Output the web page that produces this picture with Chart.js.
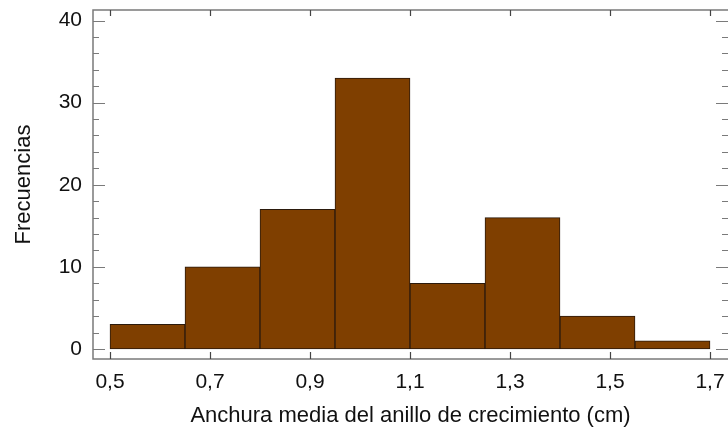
<!DOCTYPE html>
<html>
<head>
<meta charset="utf-8">
<script src="https://cdn.jsdelivr.net/npm/chart.js@4"></script>
<style>
  html, body { margin: 0; padding: 0; background: #fff; }
  #wrap { width: 728px; height: 427px; }
</style>
</head>
<body>
<div id="wrap"><canvas id="histChart"></canvas></div>
<script>
// bin edges (cm) and frequencies
var binEdges = [0.5, 0.65, 0.8, 0.95, 1.1, 1.25, 1.4, 1.55, 1.7];
var counts = [3, 10, 17, 33, 8, 16, 4, 1];
var xTicks = [0.5, 0.7, 0.9, 1.1, 1.3, 1.5, 1.7];
var yTicks = [0, 10, 20, 30, 40];

var cData = [];
for (var i = 0; i < counts.length; i++) {
    cData.push({ x: (binEdges[i] + binEdges[i + 1]) / 2, y: counts[i] });
}

// box + inward tick marks, like the original plot
const frameTicks = {
    id: 'frameTicks',
    afterDraw: function (chart) {
        var ctx = chart.ctx;
        var a = chart.chartArea;
        var xs = chart.scales.x, ys = chart.scales.y;
        ctx.save();
        ctx.strokeStyle = '#7a7a7a';
        ctx.lineWidth = 1.5;
        ctx.strokeRect(a.left, a.top, a.right - a.left + 4, a.bottom - a.top);

        ctx.lineWidth = 1.2;
        ctx.beginPath();
        // y ticks left & right, major every 10, minor every 2
        for (var v = 0; v <= 40; v += 2) {
            var py = Math.round(ys.getPixelForValue(v)) + 0.5;
            var len = (v % 10 === 0) ? 12 : 6;
            ctx.moveTo(a.left, py); ctx.lineTo(a.left + len, py);
            ctx.moveTo(a.right, py); ctx.lineTo(a.right - len, py);
        }
        ctx.stroke();

        ctx.strokeStyle = '#444';
        ctx.beginPath();
        xTicks.forEach(function (t) {
            var px = Math.round(xs.getPixelForValue(t)) + 0.5;
            ctx.moveTo(px, a.bottom); ctx.lineTo(px, a.bottom - 7);
            ctx.moveTo(px, a.top); ctx.lineTo(px, a.top + 6);
        });
        ctx.stroke();
        ctx.restore();
    }
};

const config = {
    type: 'bar',
    data: {
        datasets: [{
            label: 'Frecuencias',
            data: cData,
            backgroundColor: '#7f3f00',
            borderColor: '#2b1a0c',
            borderWidth: 1,
            borderSkipped: false,
            barPercentage: 1.0,
            categoryPercentage: 1.0
        }]
    },
    options: {
        responsive: true, maintainAspectRatio: false,
        animation: false,
        layout: { padding: { top: 10, right: 0, left: 0, bottom: 0 } },
        scales: {
            x: {
                type: 'linear',
                offset: false,
                min: 0.466,
                max: 1.736,
                grid: { display: false, drawTicks: false, offset: false },
                border: { display: false },
                afterBuildTicks: function (scale) {
                    scale.ticks = xTicks.map(function (v) { return { value: v }; });
                },
                afterFit: function (scale) {
                    scale.height = 68;
                    scale.paddingLeft = 0; scale.paddingRight = 0;
                },
                ticks: {
                    padding: 11,
                    maxRotation: 0,
                    color: '#111',
                    font: { family: 'Liberation Sans, Arial', size: 21 },
                    callback: function (v) { return v.toFixed(1).replace('.', ','); }
                },
                title: {
                    display: true,
                    text: 'Anchura media del anillo de crecimiento (cm)',
                    color: '#111',
                    font: { family: 'Liberation Sans, Arial', size: 22 },
                    padding: { top: 4, bottom: -2 }
                }
            },
            y: {
                min: -1.22,
                max: 41.28,
                grid: { display: false, drawTicks: false },
                border: { display: false },
                afterBuildTicks: function (scale) {
                    scale.ticks = yTicks.map(function (v) { return { value: v }; });
                },
                afterFit: function (scale) {
                    scale.width = 93;
                    scale.paddingTop = 0; scale.paddingBottom = 0;
                },
                ticks: {
                    padding: 11,
                    color: '#111',
                    font: { family: 'Liberation Sans, Arial', size: 21 }
                },
                title: {
                    display: true,
                    text: 'Frecuencias',
                    color: '#111',
                    font: { family: 'Liberation Sans, Arial', size: 22 },
                    padding: { top: 11, bottom: 0 }
                }
            }
        },
        plugins: {
            legend: { display: false },
            tooltip: { enabled: false }
        }
    },
    plugins: [frameTicks]
};

var histChart = new Chart(
    document.getElementById('histChart'),
    config
);
</script>
</body>
</html>
